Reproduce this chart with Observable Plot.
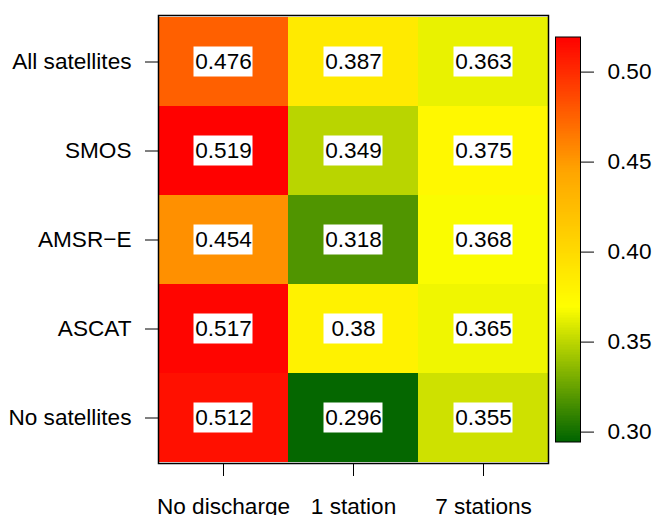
<!DOCTYPE html>
<html>
<head>
<meta charset="utf-8">
<script src="https://cdn.jsdelivr.net/npm/d3@7"></script>
<script src="https://cdn.jsdelivr.net/npm/@observablehq/plot@0.6"></script>
<style>
  body { margin: 0; background: #fff; }
  #chart { position: relative; width: 654px; height: 515px; overflow: hidden; }
  #chart svg { position: absolute; top: 0; left: 0; overflow: visible; }
</style>
</head>
<body>
<div id="chart"></div>
<script>
// Error scores per calibration setup (columns) and satellite product (rows)
const runs = ["No discharge", "1 station", "7 stations"];
const products = ["All satellites", "SMOS", "AMSR\u2212E", "ASCAT", "No satellites"];
const noDischarge   = [0.476, 0.519, 0.454, 0.517, 0.512];
const oneStation    = [0.387, 0.349, 0.318, 0.38, 0.296];
const sevenStations = [0.363, 0.375, 0.368, 0.365, 0.355];

// Colour key: limits, palette and tick labels
const colorLimits = [0.2945, 0.5195];
const paletteColors = ["#006400", "#ffff00", "#ffa500", "#ff0000"];
const legendTicks = [0.30, 0.35, 0.40, 0.45, 0.50];

const font = "'Liberation Sans', Arial, Helvetica, sans-serif";
const fs = 22.6;

const table = [];
[noDischarge, oneStation, sevenStations].forEach((col, i) => {
  col.forEach((v, j) => table.push({run: runs[i], product: products[j], value: v}));
});

// palette colours spread evenly across the colour limits
const stops = paletteColors.map((_, i) =>
  colorLimits[0] + (colorLimits[1] - colorLimits[0]) * i / (paletteColors.length - 1));
const colorOpts = {type: "linear", domain: stops, range: paletteColors, interpolate: "rgb"};

const main = Plot.plot({
  width: 654,
  height: 515,
  marginLeft: 158,
  marginRight: 106,
  marginTop: 15,
  marginBottom: 52,
  style: {fontFamily: font, fontSize: fs + "px", color: "black", background: "transparent"},
  x: {domain: runs, padding: 0, label: null},
  y: {domain: products, padding: 0, label: null},
  color: colorOpts,
  marks: [
    Plot.cell(table, {x: "run", y: "product", fill: "value", inset: 0}),
    Plot.cell(table, {x: "run", y: "product", fill: "white",
      insetLeft: 35.5, insetRight: 35.5, insetTop: 29.5, insetBottom: 29.5}),
    Plot.text(table, {x: "run", y: "product", text: d => String(d.value),
      fontSize: fs, fill: "black"}),
    Plot.frame({stroke: "black", strokeWidth: 1.5}),
    Plot.axisX({anchor: "bottom", tickSize: 13, tickPadding: 21, fontSize: fs, label: null}),
    Plot.axisY({anchor: "left", tickSize: 13, tickPadding: 14, fontSize: fs, label: null})
  ]
});

// thin bands for the colour bar
const nBands = 240;
const bandStep = (colorLimits[1] - colorLimits[0]) / nBands;
const bands = d3.range(nBands).map(i => ({
  y1: colorLimits[0] + i * bandStep,
  y2: colorLimits[0] + (i + 1) * bandStep
}));

const key = Plot.plot({
  width: 654,
  height: 515,
  marginLeft: 555,
  marginRight: 74,
  marginTop: 36.5,
  marginBottom: 73.5,
  style: {fontFamily: font, fontSize: fs + "px", color: "black", background: "transparent"},
  x: {domain: [0, 1], axis: null},
  y: {domain: colorLimits, axis: null},
  color: colorOpts,
  marks: [
    Plot.rect(bands, {x1: 0, x2: 1, y1: "y1", y2: "y2", fill: d => (d.y1 + d.y2) / 2,
      inset: 0, shapeRendering: "crispEdges"}),
    Plot.frame({stroke: "black", strokeWidth: 1}),
    Plot.axisY({anchor: "right", ticks: legendTicks, tickFormat: d3.format(".2f"),
      tickSize: 13, tickPadding: 14, fontSize: fs, label: null})
  ]
});

const chart = document.getElementById("chart");
chart.appendChild(main);
chart.appendChild(key);
</script>
</body>
</html>
